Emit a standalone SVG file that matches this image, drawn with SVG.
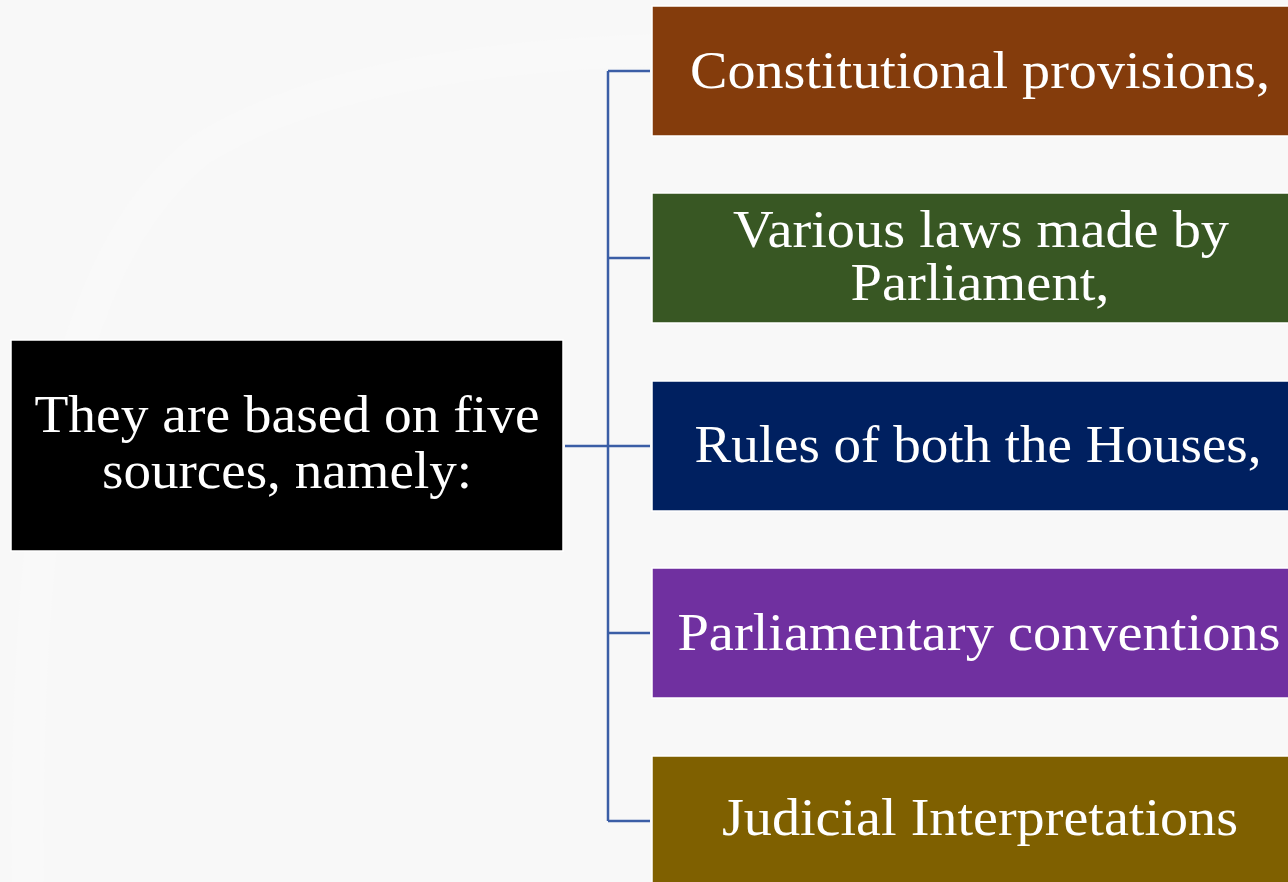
<svg xmlns="http://www.w3.org/2000/svg" width="1288" height="882" viewBox="0 0 1288 882">
  <style>
    .bg { fill: #f8f8f8; }
    .band { fill: none; stroke: #f9f9f9; stroke-width: 32; }
    .box { stroke: #ffffff; stroke-width: 1.5; }
    .label { font-family: "Liberation Serif", "DejaVu Serif", serif; font-size: 52px; fill: #ffffff; text-anchor: middle; }
    .link { fill: none; stroke: #3b5ea6; stroke-width: 2.5; }
  </style>

  <!-- page background with a faint sweeping band -->
  <rect class="bg" x="0" y="0" width="1288" height="882"/>
  <path class="band" d="M 28 882 C 24 520, 60 260, 200 150 C 320 75, 500 55, 660 50"/>

  <!-- connectors: trunk from the root box, then one branch per source -->
  <g id="connectors">
    <path class="link" d="M 565 446 H 650"/>
    <path class="link" d="M 608 71 V 821"/>
    <path class="link" d="M 608 71 H 650"/>
    <path class="link" d="M 608 258 H 650"/>
    <path class="link" d="M 608 633 H 650"/>
    <path class="link" d="M 608 821 H 650"/>
  </g>

  <g id="root">
    <rect class="box" x="11" y="340" width="552" height="211" fill="#000000"/>
    <text class="label" x="287" y="432" textLength="505" lengthAdjust="spacingAndGlyphs">They are based on five</text>
    <text class="label" x="287" y="488" textLength="370" lengthAdjust="spacingAndGlyphs">sources, namely:</text>
  </g>

  <g id="constitutional">
    <rect class="box" x="652" y="6" width="660" height="130" fill="#843c0c"/>
    <text class="label" x="980" y="88" textLength="580" lengthAdjust="spacingAndGlyphs">Constitutional provisions,</text>
  </g>

  <g id="laws">
    <rect class="box" x="652" y="193" width="660" height="130" fill="#385723"/>
    <text class="label" x="981" y="247" textLength="496" lengthAdjust="spacingAndGlyphs">Various laws made by</text>
    <text class="label" x="980" y="300" textLength="259" lengthAdjust="spacingAndGlyphs">Parliament,</text>
  </g>

  <g id="rules">
    <rect class="box" x="652" y="381" width="660" height="130" fill="#002060"/>
    <text class="label" x="978" y="462" textLength="567" lengthAdjust="spacingAndGlyphs">Rules of both the Houses,</text>
  </g>

  <g id="conventions">
    <rect class="box" x="652" y="568" width="660" height="130" fill="#7030a0"/>
    <text class="label" x="979" y="650" textLength="603" lengthAdjust="spacingAndGlyphs">Parliamentary conventions</text>
  </g>

  <g id="interpretations">
    <rect class="box" x="652" y="756" width="660" height="130" fill="#7f6000"/>
    <text class="label" x="980" y="835" textLength="516" lengthAdjust="spacingAndGlyphs">Judicial Interpretations</text>
  </g>
</svg>
